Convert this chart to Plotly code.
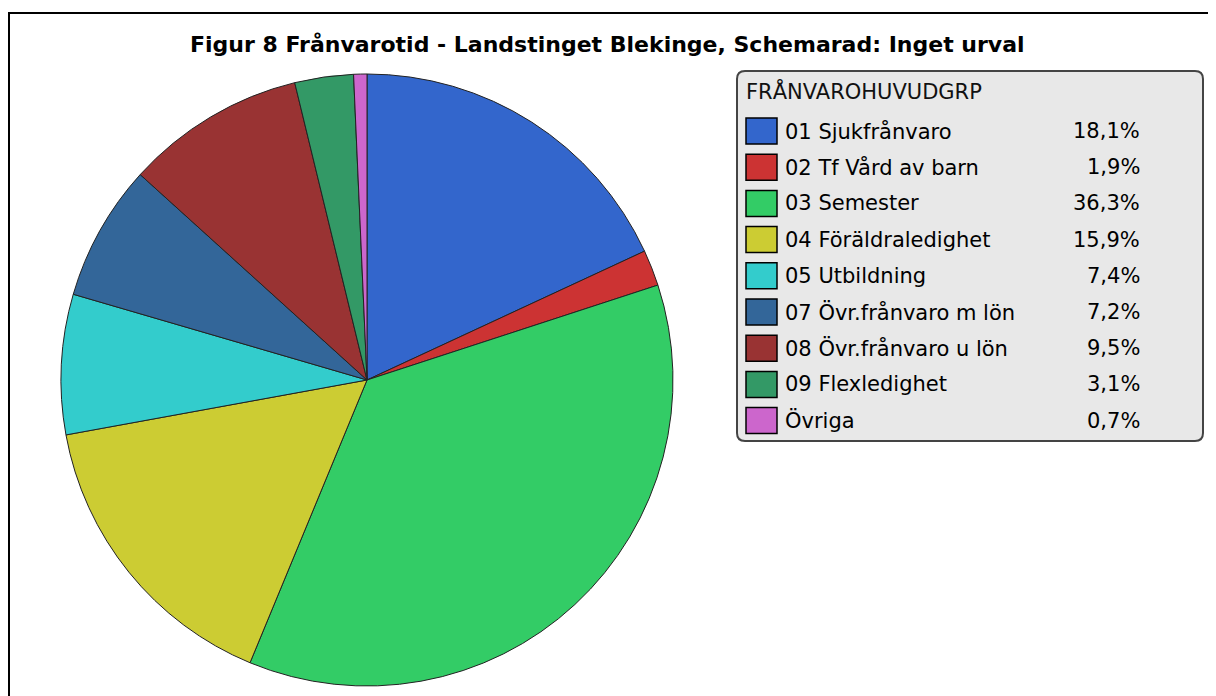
import plotly.graph_objects as go

# data
labels = ["01 Sjukfrånvaro", "02 Tf Vård av barn", "03 Semester", "04 Föräldraledighet",
          "05 Utbildning", "07 Övr.frånvaro m lön", "08 Övr.frånvaro u lön",
          "09 Flexledighet", "Övriga"]
values = [18.1, 1.9, 36.3, 15.9, 7.4, 7.2, 9.5, 3.1, 0.7]
colors = ["#3366CC", "#CC3333", "#33CC66", "#CCCC33", "#33CCCC",
          "#336699", "#993333", "#339966", "#CC66CC"]
title = "Figur 8 Frånvarotid - Landstinget Blekinge, Schemarad: Inget urval"
legend_title = "FRÅNVAROHUVUDGRP"

W, H = 1216, 696
OFF = 8  # page body margin


def X(p):
    return (p - OFF) / W


def Y(p):
    return 1 - (p - OFF) / H


font = "DejaVu Sans"

# pie centre / radius in pixels
cx, cy, r = 367, 380, 306

fig = go.Figure(go.Pie(
    labels=labels,
    values=values,
    marker=dict(colors=colors, line=dict(color="#222222", width=1)),
    sort=False,
    direction="clockwise",
    rotation=0,
    textinfo="none",
    hoverinfo="label+percent",
    showlegend=False,
    domain=dict(x=[X(cx - r), X(cx + r)], y=[Y(cy + r), Y(cy - r)]),
))

shapes = []
annotations = []

# outer frame (open on right/bottom)
shapes.append(dict(type="rect", xref="paper", yref="paper",
                   x0=X(9), x1=X(1240), y0=Y(720), y1=Y(13),
                   line=dict(color="black", width=2), fillcolor="rgba(0,0,0,0)"))

annotations.append(dict(text="<b>" + title + "</b>", x=X(607), y=Y(45),
                        xref="paper", yref="paper", showarrow=False,
                        xanchor="center", yanchor="middle",
                        font=dict(family=font, size=22, color="black")))

# legend box with rounded corners
bx0, by0, bx1, by1, rr = 737, 71, 1203, 441, 8
path = (f"M {X(bx0 + rr)},{Y(by0)} L {X(bx1 - rr)},{Y(by0)} "
        f"Q {X(bx1)},{Y(by0)} {X(bx1)},{Y(by0 + rr)} "
        f"L {X(bx1)},{Y(by1 - rr)} Q {X(bx1)},{Y(by1)} {X(bx1 - rr)},{Y(by1)} "
        f"L {X(bx0 + rr)},{Y(by1)} Q {X(bx0)},{Y(by1)} {X(bx0)},{Y(by1 - rr)} "
        f"L {X(bx0)},{Y(by0 + rr)} Q {X(bx0)},{Y(by0)} {X(bx0 + rr)},{Y(by0)} Z")
shapes.append(dict(type="path", xref="paper", yref="paper", path=path,
                   fillcolor="#E8E8E8", line=dict(color="#444444", width=2)))

annotations.append(dict(text=legend_title, x=X(744), y=Y(91), xref="paper", yref="paper",
                        showarrow=False, xanchor="left", yanchor="middle",
                        font=dict(family=font, size=21, color="#111111")))

total = sum(values)
for i, (lab, v, c) in enumerate(zip(labels, values, colors)):
    ry = 131 + i * 36.2
    shapes.append(dict(type="rect", xref="paper", yref="paper",
                       x0=X(746), x1=X(777), y0=Y(ry + 13), y1=Y(ry - 13),
                       fillcolor=c, line=dict(color="black", width=1.5)))
    annotations.append(dict(text=lab, x=X(783), y=Y(ry), xref="paper", yref="paper",
                            showarrow=False, xanchor="left", yanchor="middle",
                            font=dict(family=font, size=21, color="black")))
    pct = f"{v / total * 100:.1f}%".replace(".", ",")
    annotations.append(dict(text=pct, x=X(1142), y=Y(ry), xref="paper", yref="paper",
                            showarrow=False, xanchor="right", yanchor="middle",
                            font=dict(family=font, size=21, color="black")))

fig.update_layout(
    width=W, height=H,
    margin=dict(l=0, r=0, t=0, b=0),
    paper_bgcolor="white",
    plot_bgcolor="white",
    shapes=shapes,
    annotations=annotations,
)

fig.write_html("out.html")
